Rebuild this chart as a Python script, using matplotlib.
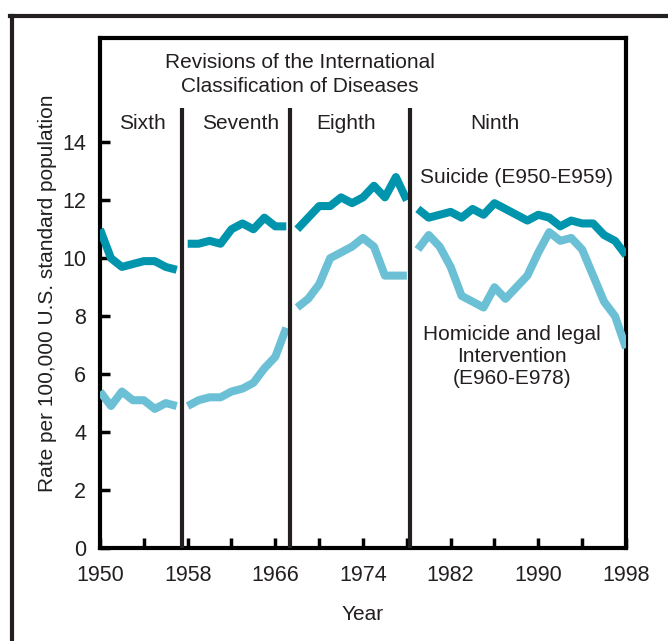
import matplotlib
matplotlib.use("Agg")
import matplotlib.pyplot as plt
from matplotlib.lines import Line2D

# --- data ---
revisions = ["Sixth", "Seventh", "Eighth", "Ninth"]
years_6th = [1950, 1951, 1952, 1953, 1954, 1955, 1956, 1957]
years_7th = [1958, 1959, 1960, 1961, 1962, 1963, 1964, 1965, 1966, 1967]
years_8th = [1968, 1969, 1970, 1971, 1972, 1973, 1974, 1975, 1976, 1977, 1978]
years_9th = [1979, 1980, 1981, 1982, 1983, 1984, 1985, 1986, 1987, 1988,
             1989, 1990, 1991, 1992, 1993, 1994, 1995, 1996, 1997, 1998]

suicide_6th = [11.0, 10.0, 9.7, 9.8, 9.9, 9.9, 9.7, 9.6]
suicide_7th = [10.5, 10.5, 10.6, 10.5, 11.0, 11.2, 11.0, 11.4, 11.1, 11.1]
suicide_8th = [11.0, 11.4, 11.8, 11.8, 12.1, 11.9, 12.1, 12.5, 12.1, 12.8, 12.0]
suicide_9th = [11.7, 11.4, 11.5, 11.6, 11.4, 11.7, 11.5, 11.9, 11.7, 11.5,
               11.3, 11.5, 11.4, 11.1, 11.3, 11.2, 11.2, 10.8, 10.6, 10.1]

homicide_6th = [5.4, 4.9, 5.4, 5.1, 5.1, 4.8, 5.0, 4.9]
homicide_7th = [4.9, 5.1, 5.2, 5.2, 5.4, 5.5, 5.7, 6.2, 6.6, 7.6]
homicide_8th = [8.3, 8.6, 9.1, 10.0, 10.2, 10.4, 10.7, 10.4, 9.4, 9.4, 9.4]
homicide_9th = [10.3, 10.8, 10.4, 9.7, 8.7, 8.5, 8.3, 9.0, 8.6, 9.0,
                9.4, 10.2, 10.9, 10.6, 10.7, 10.3, 9.4, 8.5, 8.0, 6.9]

revision_breaks = [1957.5, 1967.35, 1978.25]
revision_label_x = [1953.9, 1962.8, 1972.5, 1986.0]

x_ticks = list(range(1950, 1999, 4))
x_labels = [str(y) if (y - 1950) % 8 == 0 else "" for y in x_ticks]
y_ticks = [0, 2, 4, 6, 8, 10, 12, 14]

suicide_color = "#0095ad"
homicide_color = "#6bc0d5"
text_color = "#231f20"

plt.rcParams['font.family'] = ['Liberation Sans', 'DejaVu Sans']

fig = plt.figure(figsize=(6.68, 6.41), dpi=100)
ax = fig.add_axes([100 / 668, 1 - 548 / 641, 526 / 668, 510 / 641])

segments = [
    (years_6th, suicide_6th, homicide_6th),
    (years_7th, suicide_7th, homicide_7th),
    (years_8th, suicide_8th, homicide_8th),
    (years_9th, suicide_9th, homicide_9th),
]
for yrs, sui, hom in segments:
    ax.plot(yrs, hom, color=homicide_color, lw=5.8, solid_capstyle='butt', zorder=3)
    ax.plot(yrs, sui, color=suicide_color, lw=5.8, solid_capstyle='butt', zorder=3)

for xb in revision_breaks:
    ax.plot([xb, xb], [0, 15.2], color=text_color, lw=3.0, solid_capstyle='butt', zorder=4)

ax.set_xlim(1950, 1998)
ax.set_ylim(0, 17.6)
ax.set_xticks(x_ticks)
ax.set_xticklabels(x_labels)
ax.set_yticks(y_ticks)
ax.tick_params(direction='in', length=7, width=2.5, labelsize=15.5, color='black',
               labelcolor=text_color)
ax.tick_params(axis='x', pad=12)
ax.tick_params(axis='y', pad=10)
for sp in ax.spines.values():
    sp.set_linewidth(3.0)
    sp.set_color('black')

ax.set_xlabel("Year", fontsize=15, color=text_color, labelpad=14)
ax.set_ylabel("Rate per 100,000 U.S. standard population", fontsize=15,
              color=text_color, labelpad=4)

ax.text(1968.2, 16.35, "Revisions of the International\nClassification of Diseases",
        ha='center', va='center', fontsize=15, color=text_color, linespacing=1.35)
for name, xl in zip(revisions, revision_label_x):
    ax.text(xl, 14.65, name, ha='center', va='center', fontsize=15, color=text_color)

ax.text(1988.05, 12.78, "Suicide (E950-E959)", ha='center', va='center',
        fontsize=15, color=text_color)
ax.text(1987.6, 6.6, "Homicide and legal\nIntervention\n(E960-E978)",
        ha='center', va='center', fontsize=15, color=text_color, linespacing=1.2)

# outer frame lines (left and top)
fig.add_artist(Line2D([12 / 668, 12 / 668], [0, 1 - 16 / 641], color=text_color, lw=3.0,
                      transform=fig.transFigure))
fig.add_artist(Line2D([10 / 668, 1], [1 - 16 / 641, 1 - 16 / 641], color=text_color, lw=3.0,
                      transform=fig.transFigure))

fig.savefig("out.png", dpi=100)
